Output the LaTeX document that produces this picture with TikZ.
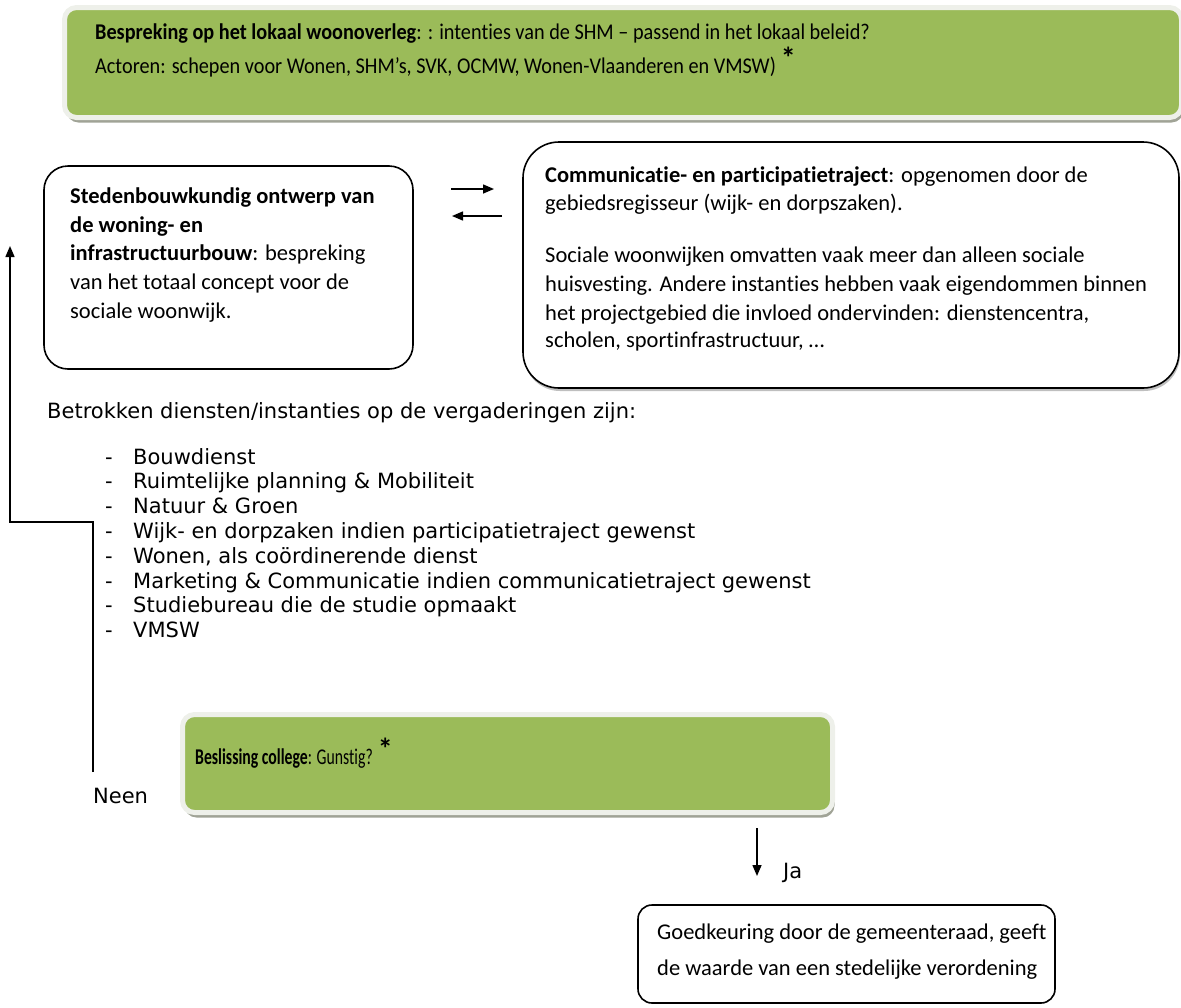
\documentclass[tikz,border=0pt]{standalone}
\usepackage{fontspec}
\setmainfont{Carlito}[Ligatures=NoCommon]
\newfontfamily\listfont{DejaVu Sans}
\usetikzlibrary{arrows.meta,shadows}
\definecolor{leaf}{HTML}{9BBB59}
\definecolor{leafrim}{HTML}{EEF0EA}
\definecolor{leafshade}{HTML}{A0A396}

\newcommand\boxfont{\fontsize{22.5}{29}\selectfont}
\newcommand\lfont{\listfont\fontsize{21}{25}\selectfont}
\newcommand\ster{\raisebox{5pt}{\fontsize{30}{30}\selectfont\bfseries *}}

\begin{document}
\begin{tikzpicture}[x=1pt,y=-1pt,
  greenbox/.style={draw=leafrim, line width=5pt, fill=leaf, rounded corners=12pt,
    inner sep=0pt, drop shadow={shadow xshift=2pt, shadow yshift=-5pt, fill=leafshade, opacity=1}},
  plainbox/.style={draw=black, line width=1.6pt, fill=white, inner sep=0pt},
  tl/.style={anchor=base west, inner sep=0pt, font=\boxfont},
  ll/.style={anchor=base west, inner sep=0pt, font=\lfont},
  arr/.style={line width=1.5pt, -{Triangle[length=11pt,width=9pt]}}]

\useasboundingbox (0,0) rectangle (1181,1007);

% --- boxes ---
\node[greenbox, minimum width=1117pt, minimum height=110pt] (overleg) at (623,62.5) {};
\node[plainbox, rounded corners=24pt, minimum width=369pt, minimum height=203pt] (ontwerp) at (228.5,267.5) {};
\node[plainbox, rounded corners=36pt, minimum width=656pt, minimum height=246pt,
  drop shadow={shadow xshift=1pt, shadow yshift=-3pt, fill=black!25, opacity=1}] (traject) at (851,265) {};
\node[greenbox, minimum width=650pt, minimum height=98pt] (college) at (507.5,763.5) {};
\node[plainbox, rounded corners=14pt, minimum width=417pt, minimum height=98pt] (raad) at (846.5,954) {};

% --- top green box text ---
\node[tl] (o1) at (95,39) {\scalebox{0.9}[1]{\textbf{Bespreking op het lokaal woonoverleg}: : intenties van de SHM – passend in het lokaal beleid?}};
\node[tl] (o2) at (95,73) {\scalebox{0.9}[1]{Actoren: schepen voor Wonen, SHM’s, SVK, OCMW, Wonen-Vlaanderen en VMSW)} \ster};

% --- left box text ---
\node[tl] (s1) at (70,203) {\textbf{Stedenbouwkundig ontwerp van}};
\node[tl] (s2) at (70,232) {\textbf{de woning- en}};
\node[tl] (s3) at (70,260) {\textbf{infrastructuurbouw}: bespreking};
\node[tl] (s4) at (70,289) {van het totaal concept voor de};
\node[tl] (s5) at (70,318) {sociale woonwijk.};

% --- right box text ---
\node[tl] (c1) at (545,182) {\textbf{Communicatie- en participatietraject}: opgenomen door de};
\node[tl] (c2) at (545,210) {gebiedsregisseur (wijk- en dorpszaken).};
\node[tl] (c3) at (545,262) {Sociale woonwijken omvatten vaak meer dan alleen sociale};
\node[tl] (c4) at (545,291) {huisvesting. Andere instanties hebben vaak eigendommen binnen};
\node[tl] (c5) at (545,320) {het projectgebied die invloed ondervinden: dienstencentra,};
\node[tl] (c6) at (545,347) {scholen, sportinfrastructuur, …};

% --- arrows between the two boxes ---
\coordinate (heenA) at (451,189);
\coordinate (heenB) at (494,189);
\coordinate (terugA) at (502,216);
\coordinate (terugB) at (452,216);
\draw[arr] (heenA) -- (heenB);
\draw[arr] (terugA) -- (terugB);

% --- list of services ---
\node[ll] (intro) at (47,418) {Betrokken diensten/instanties op de vergaderingen zijn:};
\foreach \i/\t [count=\k from 0] in {1/Bouwdienst, 2/Ruimtelijke planning \& Mobiliteit, 3/Natuur \& Groen,
  4/Wijk- en dorpzaken indien participatietraject gewenst, 5/{Wonen, als coördinerende dienst},
  6/Marketing \& Communicatie indien communicatietraject gewenst, 7/Studiebureau die de studie opmaakt, 8/VMSW}{
  \node[ll] (dash\i) at (105,464+24.8*\k) {-};
  \node[ll] (item\i) at (133,464+24.8*\k) {\t};
}

% --- decision box text ---
\node[tl] (b1) at (195,764) {\scalebox{0.7}[1]{\textbf{Beslissing college}: Gunstig?} \ster};

% --- outcome: no ---
\coordinate (neenStart) at (93,772);
\coordinate (neenTurn) at (10,522);
\coordinate (neenTip) at (10,246);
\draw[arr] (neenStart) |- (neenTurn) -- (neenTip);
\node[ll] (neen) at (93,803) {Neen};

% --- outcome: yes ---
\coordinate (jaStart) at (757,828);
\coordinate (jaTip) at (757,876);
\draw[arr] (jaStart) -- (jaTip);
\node[ll] (ja) at (783,878) {Ja};

% --- council box text ---
\node[tl] (r1) at (657,939) {Goedkeuring door de gemeenteraad, geeft};
\node[tl] (r2) at (657,975) {de waarde van een stedelijke verordening};
\end{tikzpicture}
\end{document}
